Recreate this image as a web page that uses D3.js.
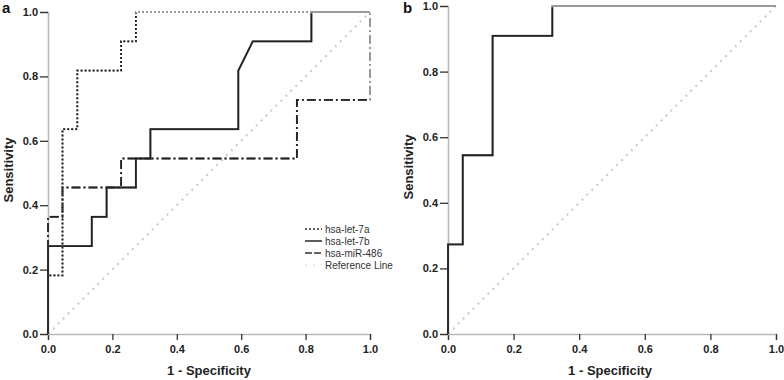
<!DOCTYPE html>
<html><head><meta charset="utf-8">
<script src="https://cdn.jsdelivr.net/npm/d3@7"></script>
<style>
html,body{margin:0;padding:0;background:#fff;}
svg{display:block;font-family:"Liberation Sans",Arial,sans-serif;}
</style></head>
<body><svg id="chart" width="784" height="380"></svg>
<script>
// ---- data ----
const tickValues = [0, 0.2, 0.4, 0.6, 0.8, 1.0];
const seriesNames = ["hsa-let-7a", "hsa-let-7b", "hsa-miR-486", "Reference Line"];

const let7aFPR = [0, 0, 0.045, 0.045, 0.091, 0.091, 0.227, 0.227, 0.273, 0.273, 1];
const let7aTPR = [0, 0.182, 0.182, 0.636, 0.636, 0.818, 0.818, 0.909, 0.909, 1, 1];

const let7bFPR = [0, 0, 0.136, 0.136, 0.182, 0.182, 0.273, 0.273, 0.318, 0.318, 0.591, 0.591, 0.636, 0.818, 0.818, 1];
const let7bTPR = [0, 0.273, 0.273, 0.364, 0.364, 0.455, 0.455, 0.545, 0.545, 0.636, 0.636, 0.818, 0.909, 0.909, 1, 1];

const mir486FPR = [0, 0, 0.045, 0.045, 0.227, 0.227, 0.773, 0.773, 1, 1];
const mir486TPR = [0, 0.364, 0.364, 0.455, 0.455, 0.545, 0.545, 0.727, 0.727, 1];

const refFPR = [0, 1];
const refTPR = [0, 1];

const bFPR = [0, 0, 0.045, 0.045, 0.136, 0.136, 0.318, 0.318, 1];
const bTPR = [0, 0.273, 0.273, 0.545, 0.545, 0.909, 0.909, 1, 1];

// ---- styles ----
const styles = {
  let7a: {stroke: "#222", width: 1.8, dash: "2,2"},
  let7b: {stroke: "#222", width: 1.8, dash: null},
  mir486: {stroke: "#222", width: 1.8, dash: "9,3,2,3"},
  ref: {stroke: "#c8c8c8", width: 2, dash: "2,5"}
};

const svg = d3.select("#chart");
const zip = (xs, ys) => xs.map((x, i) => [x, ys[i]]);

function panel(opts) {
  const {x0, x1, y0, y1, letter, letterX, titleX, series, legend} = opts;
  const x = d3.scaleLinear().domain([0, 1]).range([x0, x1]);
  const y = d3.scaleLinear().domain([0, 1]).range([y0, y1]);
  const g = svg.append("g");
  const id = "clip" + letter;
  svg.append("defs").append("clipPath").attr("id", id)
    .append("rect").attr("x", x0 - 10).attr("y", y1 + 1.3)
    .attr("width", (x1 - 1.3) - (x0 - 10)).attr("height", (y0 + 10) - (y1 + 1.3));

  // axes
  const xAxis = g.append("g").attr("transform", `translate(0,${y0})`)
    .call(d3.axisBottom(x).tickValues(tickValues).tickFormat(d3.format(".1f")).tickSize(6).tickPadding(5));
  const yAxis = g.append("g").attr("transform", `translate(${x0},0)`)
    .call(d3.axisLeft(y).tickValues(tickValues).tickFormat(d3.format(".1f")).tickSize(8).tickPadding(2));
  [xAxis, yAxis].forEach(a => {
    a.select(".domain").attr("stroke", "#b8b8b8").attr("stroke-width", 1.6);
    a.selectAll(".tick line").attr("stroke", "#333").attr("stroke-width", 1.3);
    a.selectAll(".tick text").attr("fill", "#222").attr("font-size", 11).attr("font-weight", "bold")
      .attr("font-family", "'Liberation Sans',Arial,sans-serif");
  });

  const line = d3.line().x(d => x(d[0])).y(d => y(d[1]));
  series.forEach(s => {
    const st = styles[s.key];
    const pts = zip(s.fx, s.ty);
    if (s.key === "ref") {
      g.append("path").attr("d", line(pts)).attr("fill", "none")
        .attr("stroke", st.stroke).attr("stroke-width", st.width).attr("stroke-dasharray", st.dash);
      return;
    }
    // grey underlay (visible where curve runs along the top / right edge)
    g.append("path").attr("d", line(pts)).attr("fill", "none")
      .attr("stroke", "#9a9a9a").attr("stroke-width", 2).attr("stroke-dasharray", st.dash);
    g.append("path").attr("d", line(pts)).attr("fill", "none").attr("clip-path", `url(#${id})`)
      .attr("stroke", st.stroke).attr("stroke-width", st.width).attr("stroke-dasharray", st.dash);
  });

  // titles
  g.append("text").attr("x", titleX).attr("y", 375).attr("text-anchor", "middle")
    .attr("font-size", 13).attr("font-weight", "bold").attr("fill", "#222").text("1 - Specificity");
  g.append("text").attr("transform", `translate(${opts.sensX},${opts.sensY}) rotate(-90)`)
    .attr("text-anchor", "middle").attr("font-size", 13).attr("font-weight", "bold").attr("fill", "#222")
    .text("Sensitivity");
  g.append("text").attr("x", letterX).attr("y", 13).attr("font-size", 15).attr("font-weight", "bold")
    .attr("fill", "#111").text(letter);

  if (legend) {
    const keys = ["let7a", "let7b", "mir486", "ref"];
    const lg = g.append("g");
    keys.forEach((k, i) => {
      const st = styles[k];
      const yy = 229 + i * 12;
      lg.append("line").attr("x1", 305).attr("x2", 322).attr("y1", yy).attr("y2", yy)
        .attr("stroke", k === "ref" ? "#e0e0e0" : "#333").attr("stroke-width", k === "ref" ? 1.5 : 1.6)
        .attr("stroke-dasharray", k === "mir486" ? "7,2" : (k === "ref" ? "2,6" : st.dash));
      lg.append("text").attr("x", 325).attr("y", yy + 3.5).attr("font-size", 10)
        .attr("fill", "#333").text(seriesNames[i]);
    });
  }
}

panel({
  x0: 48, x1: 370, y0: 334, y1: 12, letter: "a", letterX: 2, titleX: 209,
  sensX: 12.5, sensY: 170, legend: true,
  series: [
    {key: "ref", fx: refFPR, ty: refTPR},
    {key: "mir486", fx: mir486FPR, ty: mir486TPR},
    {key: "let7b", fx: let7bFPR, ty: let7bTPR},
    {key: "let7a", fx: let7aFPR, ty: let7aTPR}
  ]
});
panel({
  x0: 448, x1: 776, y0: 334, y1: 6, letter: "b", letterX: 403, titleX: 610,
  sensX: 413, sensY: 167, legend: false,
  series: [
    {key: "ref", fx: refFPR, ty: refTPR},
    {key: "let7b", fx: bFPR, ty: bTPR}
  ]
});
</script>
</body></html>
